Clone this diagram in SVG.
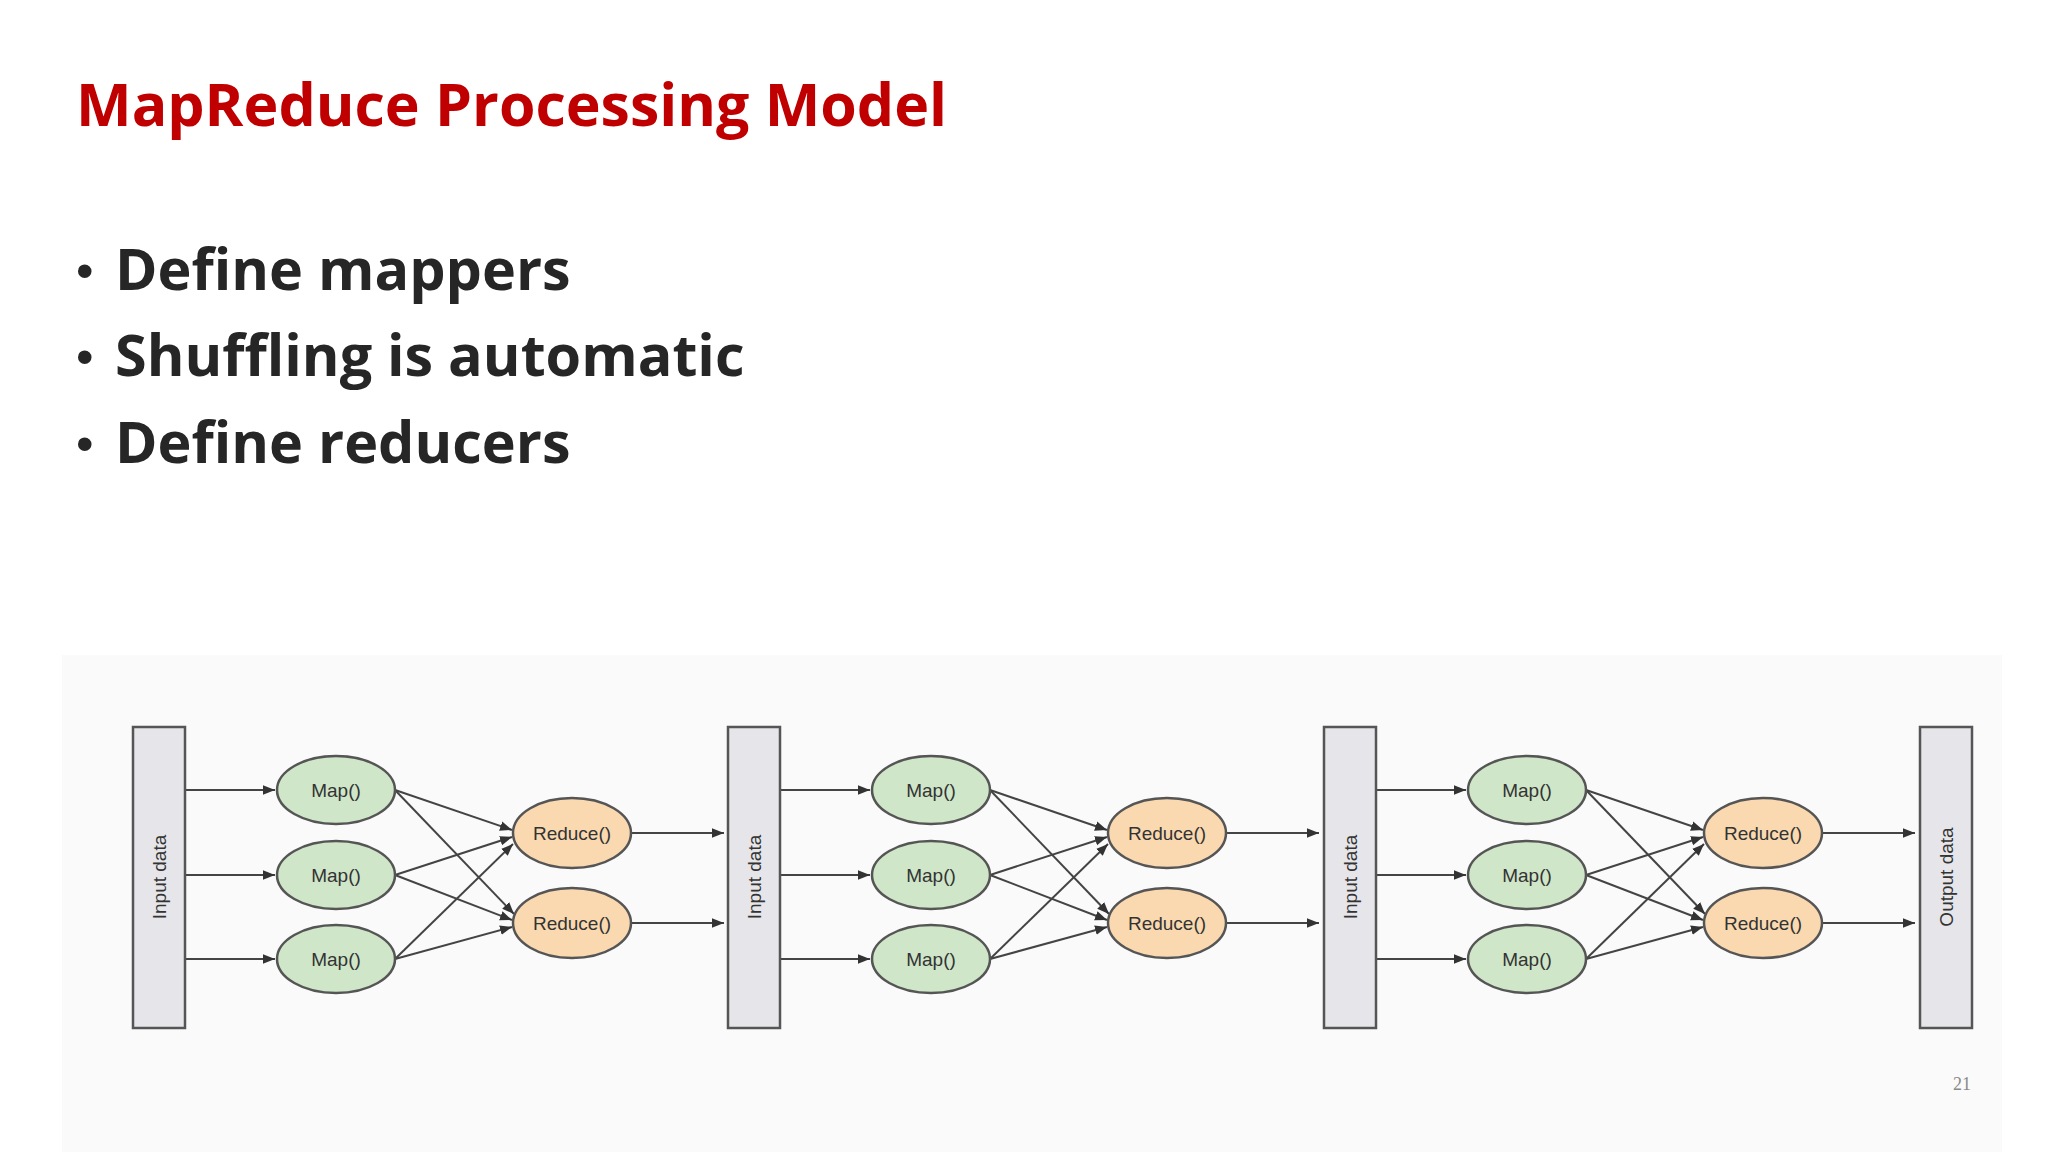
<svg xmlns="http://www.w3.org/2000/svg" width="2048" height="1152" viewBox="0 0 2048 1152">
<style>
.box{fill:#e6e6ea;stroke:#555;stroke-width:2.5}
.map{fill:#cfe6c8;stroke:#555;stroke-width:2.5}
.red{fill:#fad9b0;stroke:#555;stroke-width:2.5}
.lbl{font-family:"Liberation Sans",Arial,sans-serif;font-size:19px;fill:#333;text-anchor:middle;dominant-baseline:central}
.e{stroke:#444;stroke-width:2;fill:none;marker-end:url(#ah)}
.b{font-family:"Open Sans","Liberation Sans",sans-serif;font-weight:bold;font-size:57.5px;fill:#262626}
.d{font-family:"Liberation Sans",sans-serif;font-size:50px;fill:#262626}
</style>
<defs>
<marker id="ah" viewBox="0 0 10 10" refX="10" refY="5" markerWidth="6" markerHeight="6" orient="auto" markerUnits="strokeWidth"><path d="M0,1 L10,5 L0,9 z" fill="#333"/></marker>
</defs>
<rect width="2048" height="1152" fill="#fff"/>
<rect x="62" y="655" width="1940" height="497" fill="#fafafb"/>
<text x="76" y="126" font-family="Open Sans,Liberation Sans,sans-serif" font-weight="bold" font-size="59" fill="#c00000">MapReduce Processing Model</text>
<text x="76" y="288" class="d">•</text><text x="115" y="290" class="b">Define mappers</text>
<text x="76" y="374" class="d">•</text><text x="115" y="376" class="b">Shuffling is automatic</text>
<text x="76" y="461" class="d">•</text><text x="115" y="463" class="b">Define reducers</text>
<text x="1962" y="1090" font-family="Liberation Serif,serif" font-size="18" fill="#888" text-anchor="middle">21</text>

<g id="connectors">
<g id="c1">
<line class="e" x1="185" y1="790" x2="275" y2="790"/><line class="e" x1="185" y1="875" x2="275" y2="875"/><line class="e" x1="185" y1="959" x2="275" y2="959"/>
<line class="e" x1="395" y1="790" x2="512" y2="830"/><line class="e" x1="395" y1="790" x2="514" y2="914"/>
<line class="e" x1="395" y1="875" x2="512" y2="837"/><line class="e" x1="395" y1="875" x2="512" y2="920"/>
<line class="e" x1="395" y1="959" x2="513" y2="844"/><line class="e" x1="395" y1="959" x2="512" y2="927"/>
<line class="e" x1="631" y1="833" x2="724" y2="833"/><line class="e" x1="631" y1="923" x2="724" y2="923"/>
</g>
<g id="c2" transform="translate(595,0)">
<line class="e" x1="185" y1="790" x2="275" y2="790"/><line class="e" x1="185" y1="875" x2="275" y2="875"/><line class="e" x1="185" y1="959" x2="275" y2="959"/>
<line class="e" x1="395" y1="790" x2="512" y2="830"/><line class="e" x1="395" y1="790" x2="514" y2="914"/>
<line class="e" x1="395" y1="875" x2="512" y2="837"/><line class="e" x1="395" y1="875" x2="512" y2="920"/>
<line class="e" x1="395" y1="959" x2="513" y2="844"/><line class="e" x1="395" y1="959" x2="512" y2="927"/>
<line class="e" x1="631" y1="833" x2="724" y2="833"/><line class="e" x1="631" y1="923" x2="724" y2="923"/>
</g>
<g id="c3" transform="translate(1191,0)">
<line class="e" x1="185" y1="790" x2="275" y2="790"/><line class="e" x1="185" y1="875" x2="275" y2="875"/><line class="e" x1="185" y1="959" x2="275" y2="959"/>
<line class="e" x1="395" y1="790" x2="512" y2="830"/><line class="e" x1="395" y1="790" x2="514" y2="914"/>
<line class="e" x1="395" y1="875" x2="512" y2="837"/><line class="e" x1="395" y1="875" x2="512" y2="920"/>
<line class="e" x1="395" y1="959" x2="513" y2="844"/><line class="e" x1="395" y1="959" x2="512" y2="927"/>
<line class="e" x1="631" y1="833" x2="724" y2="833"/><line class="e" x1="631" y1="923" x2="724" y2="923"/>
</g>
</g>

<g id="input1"><rect class="box" x="133" y="727" width="52" height="301"/><text class="lbl" transform="translate(159,877) rotate(-90)">Input data</text></g>
<g id="input2"><rect class="box" x="728" y="727" width="52" height="301"/><text class="lbl" transform="translate(754,877) rotate(-90)">Input data</text></g>
<g id="input3"><rect class="box" x="1324" y="727" width="52" height="301"/><text class="lbl" transform="translate(1350,877) rotate(-90)">Input data</text></g>
<g id="output"><rect class="box" x="1920" y="727" width="52" height="301"/><text class="lbl" transform="translate(1946,877) rotate(-90)">Output data</text></g>

<g id="map1a"><ellipse class="map" cx="336" cy="790" rx="59" ry="34"/><text class="lbl" x="336" y="790">Map()</text></g>
<g id="map1b"><ellipse class="map" cx="336" cy="875" rx="59" ry="34"/><text class="lbl" x="336" y="875">Map()</text></g>
<g id="map1c"><ellipse class="map" cx="336" cy="959" rx="59" ry="34"/><text class="lbl" x="336" y="959">Map()</text></g>
<g id="red1a"><ellipse class="red" cx="572" cy="833" rx="59" ry="35"/><text class="lbl" x="572" y="833">Reduce()</text></g>
<g id="red1b"><ellipse class="red" cx="572" cy="923" rx="59" ry="35"/><text class="lbl" x="572" y="923">Reduce()</text></g>

<g id="map2a"><ellipse class="map" cx="931" cy="790" rx="59" ry="34"/><text class="lbl" x="931" y="790">Map()</text></g>
<g id="map2b"><ellipse class="map" cx="931" cy="875" rx="59" ry="34"/><text class="lbl" x="931" y="875">Map()</text></g>
<g id="map2c"><ellipse class="map" cx="931" cy="959" rx="59" ry="34"/><text class="lbl" x="931" y="959">Map()</text></g>
<g id="red2a"><ellipse class="red" cx="1167" cy="833" rx="59" ry="35"/><text class="lbl" x="1167" y="833">Reduce()</text></g>
<g id="red2b"><ellipse class="red" cx="1167" cy="923" rx="59" ry="35"/><text class="lbl" x="1167" y="923">Reduce()</text></g>

<g id="map3a"><ellipse class="map" cx="1527" cy="790" rx="59" ry="34"/><text class="lbl" x="1527" y="790">Map()</text></g>
<g id="map3b"><ellipse class="map" cx="1527" cy="875" rx="59" ry="34"/><text class="lbl" x="1527" y="875">Map()</text></g>
<g id="map3c"><ellipse class="map" cx="1527" cy="959" rx="59" ry="34"/><text class="lbl" x="1527" y="959">Map()</text></g>
<g id="red3a"><ellipse class="red" cx="1763" cy="833" rx="59" ry="35"/><text class="lbl" x="1763" y="833">Reduce()</text></g>
<g id="red3b"><ellipse class="red" cx="1763" cy="923" rx="59" ry="35"/><text class="lbl" x="1763" y="923">Reduce()</text></g>
</svg>
